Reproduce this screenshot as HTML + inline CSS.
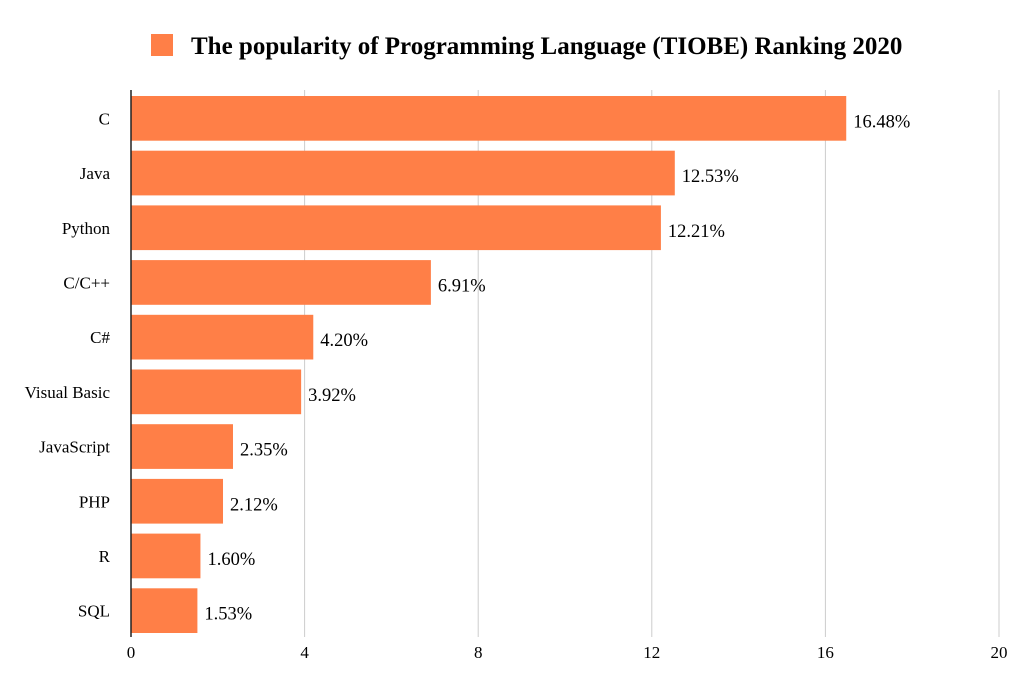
<!DOCTYPE html>
<html><head><meta charset="utf-8"><style>
html,body{margin:0;padding:0;background:#fff;}
svg{display:block;font-family:"Liberation Serif",serif;}
</style></head><body>
<svg id="chart" width="1024" height="685">
<g>
<rect x="151" y="34" width="22" height="22" fill="#FF7F47"/>
<text x="191" y="54" font-size="25" font-weight="bold" fill="#000">The popularity of Programming Language (TIOBE) Ranking 2020</text>
</g>
<g id="grid"></g><g id="bars"></g><g id="labels"></g>
</svg>
<script>
const categories=["C","Java","Python","C/C++","C#","Visual Basic","JavaScript","PHP","R","SQL"];
const values=[16.48,12.53,12.21,6.91,4.20,3.92,2.35,2.12,1.60,1.53];
const valueLabels=["16.48%","12.53%","12.21%","6.91%","4.20%","3.92%","2.35%","2.12%","1.60%","1.53%"];
const ticks=[0,4,8,12,16,20];
const NS="http://www.w3.org/2000/svg";
const x0=131,x1=999,yTop=90,yBot=637;
const xs=v=>x0+(v/20)*(x1-x0);
const band=(yBot-yTop)/categories.length;
const yb=i=>yTop+i*band;
function mk(t,a,p){const e=document.createElementNS(NS,t);for(const k in a)e.setAttribute(k,a[k]);p.appendChild(e);return e;}
const grid=document.getElementById('grid'),bars=document.getElementById('bars'),labels=document.getElementById('labels');
ticks.forEach(t=>{
 if(t>0){const l=mk('line',{x1:xs(t),x2:xs(t),y1:yTop,y2:yBot,stroke:'#cccccc','stroke-width':1},grid);
 
 }
 const tx=mk('text',{x:xs(t),y:658,'font-size':17,'text-anchor':'middle',fill:'#000'},grid);
 tx.textContent=t;
 
 
});
categories.forEach((c,i)=>{
 const r=mk('rect',{x:x0,y:yb(i)+6,width:xs(values[i])-x0,height:band-10,fill:'#FF7F47'},bars);
 
 
 const cl=mk('text',{x:110,y:yb(i)+band/2+7,'font-size':17,'text-anchor':'end',fill:'#000'},labels);
 cl.textContent=c;
 
 
 const vl=mk('text',{x:xs(values[i])+7,y:yb(i)+band/2+10,'font-size':18.5,fill:'#000'},labels);
 vl.textContent=valueLabels[i];
 
 
});
const ax=mk('line',{x1:x0,x2:x0,y1:yTop,y2:yBot,stroke:'#222','stroke-width':1.5},labels);


</script>
</body></html>
